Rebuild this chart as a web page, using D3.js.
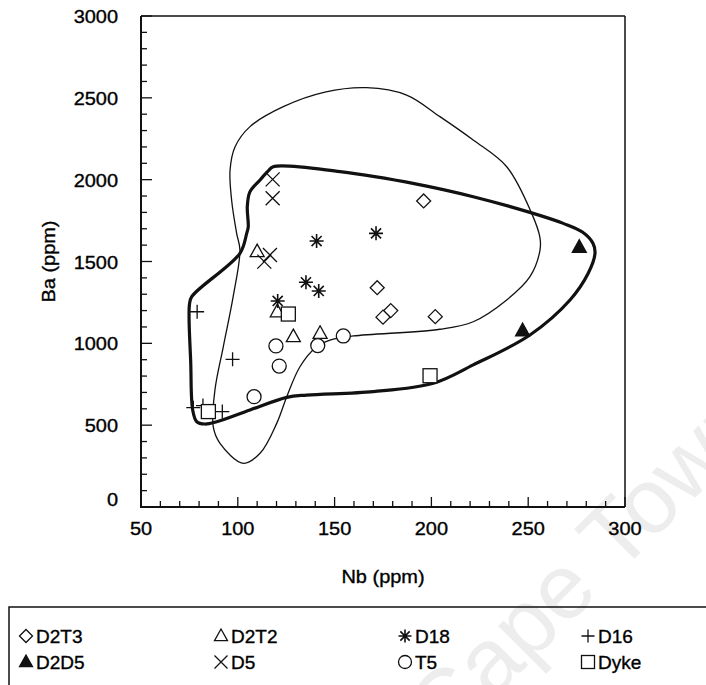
<!DOCTYPE html>
<html>
<head>
<meta charset="utf-8">
<script src="https://cdn.jsdelivr.net/npm/d3@7"></script>
<style>
  html, body { margin: 0; padding: 0; background: #fff; }
  svg { display: block; }
  text { font-family: "Liberation Sans", Arial, sans-serif; fill: #000; }
  text.ink { stroke: #000; stroke-width: 0.35px; }
</style>
</head>
<body>
<svg id="chart" width="706" height="685"></svg>
<script>
// Axis ticks
const xTicks = [50, 100, 150, 200, 250, 300];
const yTicks = [0, 500, 1000, 1500, 2000, 2500, 3000];

// Sample groups: [Nb ppm, Ba ppm]
const D2T3 = [[172, 1340], [179, 1200], [175, 1160], [202, 1163], [196, 1870]];
const D2T2 = [[110, 1560], [120.4, 1193], [128.7, 1041], [142.5, 1061]];
const D18  = [[140.7, 1625], [171.4, 1672], [135.2, 1373], [141.8, 1320], [120.6, 1259]];
const D16  = [[79, 1193], [97.3, 902], [77, 607], [82, 620], [92, 583]];
const D2D5 = [[276.4, 1587], [247.1, 1077]];
const D5   = [[118, 2002], [118, 1886], [116.6, 1540], [113.7, 1499]];
const T5   = [[119.7, 984], [121.4, 861], [141.3, 986], [154.5, 1045], [108.4, 674]];
const Dyke = [[126.1, 1179], [199.3, 802], [84.8, 583]];

// Field boundaries: [Nb ppm, Ba ppm]
const thickField = [
  [118.3, 2079], [152.8, 2049], [192.4, 1973], [221.6, 1896], [250.9, 1800],
  [268.1, 1733], [278, 1680], [283.5, 1610], [284.5, 1550], [281, 1428],
  [271.6, 1265], [250.9, 1051], [221.6, 868], [201, 756], [170, 705],
  [135.6, 684], [125.3, 670], [106.3, 593], [89.1, 521], [83, 507],
  [78.8, 521], [76.7, 593], [75.7, 878], [75, 1234], [76.2, 1285],
  [101.1, 1550], [104.6, 1672], [105.4, 1712], [104.9, 1835], [106.3, 1927],
  [111.5, 1998], [115.5, 2050]
];
const thinField = [
  [166.5, 2562], [187.2, 2517], [204.4, 2385], [221.6, 2242], [238.9, 2079],
  [251.8, 1794], [256, 1650], [256.1, 1570], [250.9, 1407], [238.9, 1265],
  [221.6, 1132], [204.4, 1086], [159.7, 1045], [147.6, 1020], [140.7, 979],
  [132.1, 857], [125.3, 674], [120.1, 511], [111.5, 328], [102.8, 267],
  [90.8, 389], [87.3, 491], [88.2, 715], [92.5, 979], [97.6, 1285],
  [101.1, 1570], [99.4, 1672], [96.8, 1876], [96, 2059], [98.6, 2201],
  [106.3, 2324], [123.5, 2446], [145, 2535]
];

const legendItems = [
  { name: "D2T3", shape: "diamond" }, { name: "D2T2", shape: "triangle" },
  { name: "D18", shape: "asterisk" }, { name: "D16", shape: "plus" },
  { name: "D2D5", shape: "filledTriangle" }, { name: "D5", shape: "cross" },
  { name: "T5", shape: "circle" }, { name: "Dyke", shape: "square" }
];

const svg = d3.select("#chart");
const plot = { left: 141, right: 625, top: 16, bottom: 507 };
const x = d3.scaleLinear().domain([50, 300]).range([plot.left, plot.right]);
const y = d3.scaleLinear().domain([0, 3000]).range([plot.bottom, plot.top]);
const SX = 1.05; // slightly wide glyph proportions

svg.append("rect").attr("width", 706).attr("height", 685).attr("fill", "#fff");

// faint background lettering
svg.append("text")
  .attr("transform", "translate(445,748) rotate(-45)")
  .attr("font-size", 92)
  .style("fill", "#ededed")
  .text("Cape Town");

function label(g, str, px, py, size, anchor, rot, sx) {
  const s = sx === undefined ? SX : sx;
  return g.append("text")
    .attr("class", "ink")
    .attr("transform", `translate(${px},${py})` + (rot ? ` rotate(${rot})` : "") + ` scale(${s},1)`)
    .attr("font-size", size)
    .attr("text-anchor", anchor)
    .text(str);
}

// Frame
const axisG = svg.append("g");
axisG.append("line").attr("x1", plot.left).attr("x2", plot.right).attr("y1", plot.top).attr("y2", plot.top)
  .attr("stroke", "#111").attr("stroke-width", 1.5);
axisG.append("line").attr("x1", plot.right).attr("x2", plot.right).attr("y1", plot.top).attr("y2", plot.bottom)
  .attr("stroke", "#111").attr("stroke-width", 1.5);
axisG.append("line").attr("x1", plot.left).attr("x2", plot.left).attr("y1", plot.top).attr("y2", plot.bottom + 1)
  .attr("stroke", "#111").attr("stroke-width", 2);
axisG.append("line").attr("x1", plot.left - 1).attr("x2", plot.right).attr("y1", plot.bottom).attr("y2", plot.bottom)
  .attr("stroke", "#111").attr("stroke-width", 2);

// Y ticks (inward)
d3.range(0, 3001, 100).forEach(v => {
  const major = v % 500 === 0;
  axisG.append("line").attr("x1", plot.left).attr("x2", plot.left + (major ? 11 : 6))
    .attr("y1", y(v)).attr("y2", y(v)).attr("stroke", "#111").attr("stroke-width", 1.3);
});
yTicks.forEach(v => label(axisG, String(v), 118, y(v) + 7 - (v === 0 ? 8 : 0), 19, "end"));

// X ticks (inward)
d3.range(50, 301, 10).forEach(v => {
  const major = v % 50 === 0;
  axisG.append("line").attr("x1", x(v)).attr("x2", x(v))
    .attr("y1", plot.bottom).attr("y2", plot.bottom - (major ? 10 : 6))
    .attr("stroke", "#111").attr("stroke-width", 1.3);
});
xTicks.forEach(v => label(axisG, String(v), x(v), 535, 19, "middle"));

label(axisG, "Nb (ppm)", x(175), 583, 19, "middle");
label(axisG, "Ba (ppm)", 55, y(1500), 19, "middle", -90);

// Field outlines
const line = d3.line().x(d => x(d[0])).y(d => y(d[1])).curve(d3.curveCatmullRomClosed.alpha(0.5));
svg.append("path").attr("d", line(thinField)).attr("fill", "none").attr("stroke", "#111").attr("stroke-width", 1.3);
svg.append("path").attr("d", line(thickField)).attr("fill", "none").attr("stroke", "#111").attr("stroke-width", 3.2);

// Marker shapes
function drawShape(g, shape, cx, cy, s) {
  const r = s / 2;
  const st = { stroke: "#111", "stroke-width": 1.3, fill: "none" };
  const apply = (el, extra) => { Object.entries(Object.assign({}, st, extra || {})).forEach(([k, v]) => el.attr(k, v)); return el; };
  if (shape === "circle") apply(g.append("circle").attr("cx", cx).attr("cy", cy).attr("r", r), { fill: "#fff" });
  else if (shape === "square") apply(g.append("rect").attr("x", cx - r).attr("y", cy - r).attr("width", s).attr("height", s), { fill: "#fff" });
  else if (shape === "diamond") apply(g.append("path").attr("d", `M${cx},${cy - r}L${cx + r},${cy}L${cx},${cy + r}L${cx - r},${cy}Z`), { fill: "#fff" });
  else if (shape === "triangle" || shape === "filledTriangle") {
    const h = s * 0.9;
    apply(g.append("path").attr("d", `M${cx},${cy - h * 0.6}L${cx + r},${cy + h * 0.4}L${cx - r},${cy + h * 0.4}Z`),
      shape === "filledTriangle" ? { fill: "#111" } : { fill: "#fff" });
  } else if (shape === "plus") {
    apply(g.append("path").attr("d", `M${cx - r},${cy}H${cx + r}M${cx},${cy - r}V${cy + r}`));
  } else if (shape === "cross") {
    apply(g.append("path").attr("d", `M${cx - r},${cy - r}L${cx + r},${cy + r}M${cx - r},${cy + r}L${cx + r},${cy - r}`));
  } else if (shape === "asterisk") {
    const q = r * 0.72;
    apply(g.append("path").attr("d",
      `M${cx - r},${cy}H${cx + r}M${cx},${cy - r}V${cy + r}M${cx - q},${cy - q}L${cx + q},${cy + q}M${cx - q},${cy + q}L${cx + q},${cy - q}`),
      { "stroke-width": 1.6 });
  }
}

const groups = [
  [D2T3, "diamond"], [D2T2, "triangle"], [D18, "asterisk"], [D16, "plus"],
  [D2D5, "filledTriangle"], [D5, "cross"], [T5, "circle"], [Dyke, "square"]
];
const markG = svg.append("g");
groups.forEach(([data, shape]) => {
  data.forEach(d => drawShape(markG, shape, x(d[0]), y(d[1]), 14));
});

// Legend
const legG = svg.append("g");
legG.append("rect").attr("x", 9).attr("y", 607).attr("width", 720).attr("height", 100)
  .attr("fill", "none").attr("stroke", "#111").attr("stroke-width", 1.5);
const colX = [26, 221, 405, 588];
const rowY = [636, 662];
legendItems.forEach((it, i) => {
  const cx = colX[i % 4], cy = rowY[Math.floor(i / 4)];
  drawShape(legG, it.shape, cx, cy, 13);
  label(legG, it.name, cx + 10, cy + 7, 19, "start", 0, 1.0);
});
</script>
</body>
</html>
